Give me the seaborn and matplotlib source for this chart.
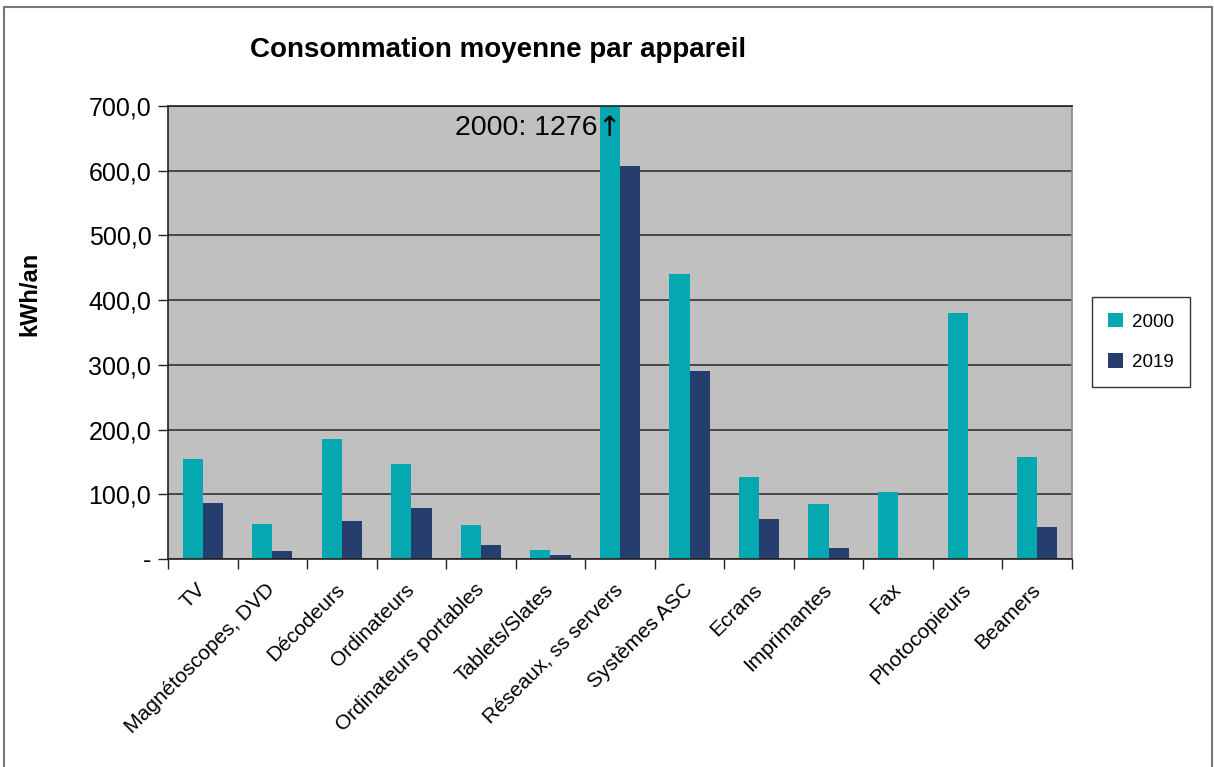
import pandas as pd
import numpy as np
import matplotlib
matplotlib.use('Agg')
import matplotlib.pyplot as plt
import seaborn as sns
from matplotlib.ticker import FuncFormatter, FixedLocator

# Data
appareils = ['TV', 'Magnétoscopes, DVD', 'Décodeurs', 'Ordinateurs',
             'Ordinateurs portables', 'Tablets/Slates', 'Réseaux, ss servers',
             'Systèmes ASC', 'Ecrans', 'Imprimantes', 'Fax', 'Photocopieurs',
             'Beamers']
conso_2000 = [155, 54, 186, 147, 53, 14, 1276, 441, 127, 85, 104, 380, 158]
conso_2019 = [87, 12, 59, 79, 22, 6, 608, 291, 62, 17, 0, 0, 50]
annees = ['2000', '2019']

df = pd.DataFrame({
    'appareil': appareils * 2,
    'annee': [annees[0]] * len(appareils) + [annees[1]] * len(appareils),
    'kwh': conso_2000 + conso_2019,
})

sns.set_theme(style='white')
plt.rcParams['font.family'] = ['Liberation Sans', 'DejaVu Sans']
plt.rcParams['text.color'] = 'black'
plt.rcParams['xtick.color'] = 'black'
plt.rcParams['ytick.color'] = 'black'

fig = plt.figure(figsize=(12.14, 7.67), dpi=100)
ax = fig.add_axes([168 / 1214, 1 - 559 / 767, (1072 - 168) / 1214, (559 - 106) / 767])

sns.barplot(data=df, x='appareil', y='kwh', hue='annee', ax=ax,
            palette=['#05A8B0', '#263E6E'], width=0.58, saturation=1,
            linewidth=0, legend=True)

ax.set_facecolor('#C0C0C0')
ax.set_ylim(0, 700)
ax.set_xlim(-0.5, len(appareils) - 0.5)
ax.set_yticks(np.arange(0, 701, 100))
ax.yaxis.set_major_formatter(FuncFormatter(
    lambda v, p: '-' if v == 0 else f'{v:.1f}'.replace('.', ',')))
ax.grid(axis='y', color='#333333', linewidth=1.2)
ax.set_axisbelow(True)
for s in ax.spines.values():
    s.set_color('#222222')
    s.set_linewidth(1.2)
ax.spines['right'].set_color('#888888')

ax.tick_params(axis='y', labelsize=18, length=7, width=1, direction='out',
               color='#222222', left=True, pad=5)
# labels centered on categories, tick marks between categories
ax.tick_params(axis='x', which='major', length=0, labelsize=15, pad=20)
ax.xaxis.set_minor_locator(FixedLocator(np.arange(-0.5, len(appareils), 1)))
ax.tick_params(axis='x', which='minor', length=7, width=1, color='#222222',
               direction='out', bottom=True)
plt.setp(ax.get_xticklabels(), rotation=45, ha='right', va='center',
         rotation_mode='anchor')

ax.set_xlabel('')
ax.set_ylabel('')
fig.text(30 / 1214, 1 - 294 / 767, 'kWh/an', rotation=90, ha='center',
         va='center', fontsize=17, fontweight='bold')

# clipped bar label, arrow drawn with DejaVu for a taller glyph
ax.text(5.67, 666, '2000: 1276', ha='right', va='center', fontsize=20.5)
ax.text(5.84, 666, '↑', ha='center', va='center', fontsize=20,
        family='DejaVu Sans')

fig.text(498 / 1214, 1 - 50 / 767, 'Consommation moyenne par appareil',
         ha='center', va='center', fontsize=20, fontweight='bold')

ax.legend(loc='center left', bbox_to_anchor=(1092 / 1214, 1 - 342 / 767),
          bbox_transform=fig.transFigure, fontsize=13.5, frameon=True,
          fancybox=False, edgecolor='black', handlelength=0.8,
          handleheight=0.8, labelspacing=1.2, borderpad=0.85,
          handletextpad=0.5, borderaxespad=0)

# outer chart border (left, top, right)
for xs, ys in [([0.003, 0.003], [0, 0.991]), ([0.003, 0.998], [0.991, 0.991]),
               ([0.998, 0.998], [0, 0.991])]:
    fig.add_artist(plt.Line2D(xs, ys, transform=fig.transFigure,
                              color='#777777', linewidth=1.5))

fig.savefig('out.png', dpi=100)
